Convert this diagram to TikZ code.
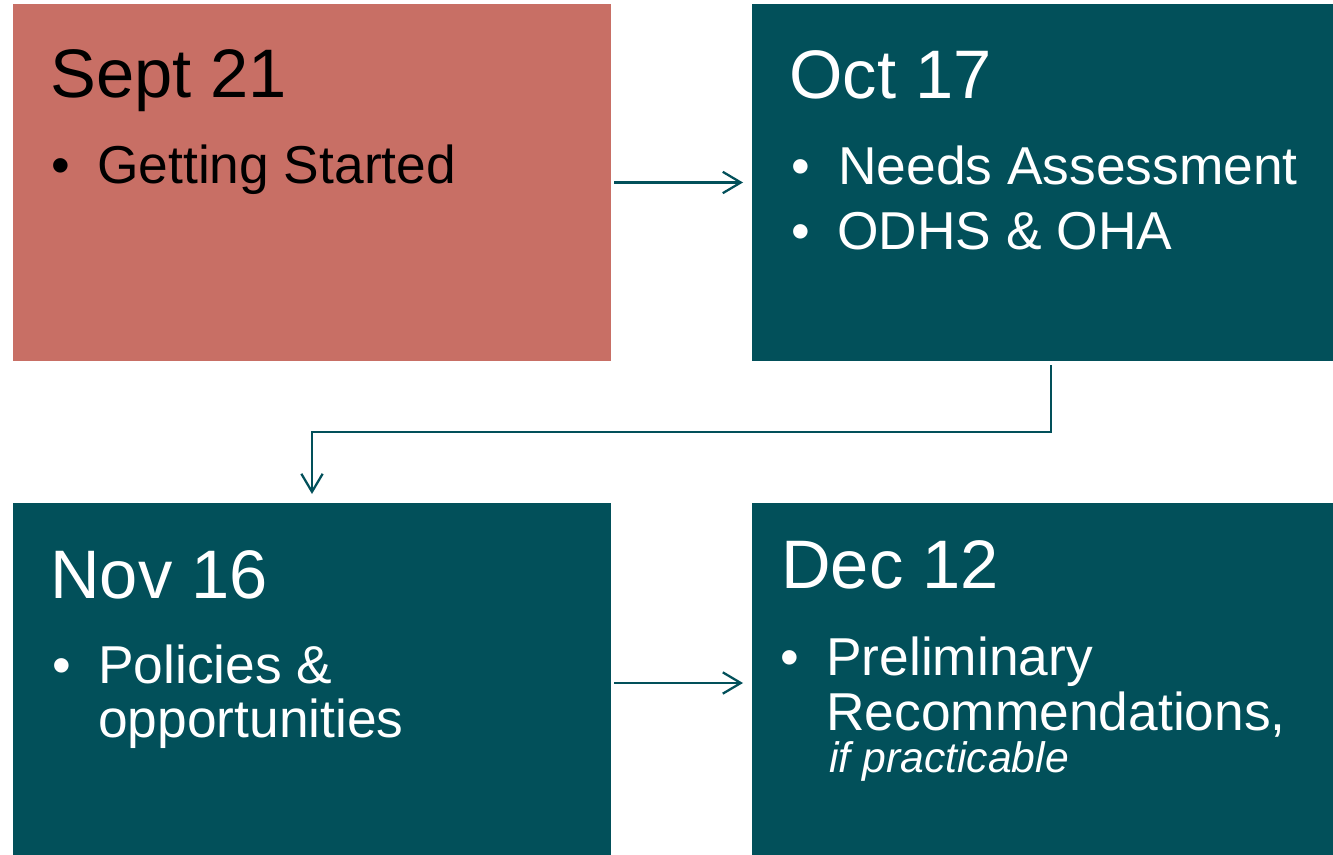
\documentclass[tikz,border=0pt]{standalone}
\usepackage{fontspec}
\setmainfont{Liberation Sans}
\usetikzlibrary{arrows.meta}
\definecolor{salmon}{HTML}{C86F65}
\definecolor{teal}{HTML}{02505A}
\tikzset{
  box/.style={draw=none, inner sep=0pt, outer sep=0pt},
  title/.style={anchor=base west, inner sep=0pt, font=\fontsize{51.5}{60}\selectfont},
  item/.style={anchor=base west, inner sep=0pt, font=\fontsize{40}{48}\selectfont},
  note/.style={anchor=base west, inner sep=0pt, font=\fontsize{32}{38}\selectfont\itshape},
  arr/.style={draw=teal, line width=1.7pt, -{Straight Barb[length=13.5pt,width=16pt,line width=1.7pt]}}
}
\begin{document}
\begin{tikzpicture}[x=0.75pt,y=-0.75pt]
\useasboundingbox (0,0) rectangle (1333,855);
% boxes
\node[box, fill=salmon, minimum width=598*0.75pt, minimum height=357*0.75pt] (b1) at (312,182.5) {};
\node[box, fill=teal, minimum width=581*0.75pt, minimum height=357*0.75pt] (b2) at (1042.5,182.5) {};
\node[box, fill=teal, minimum width=598*0.75pt, minimum height=352*0.75pt] (b3) at (312,679) {};
\node[box, fill=teal, minimum width=581*0.75pt, minimum height=352*0.75pt] (b4) at (1042.5,679) {};
% box 1 text
\node[title, text=black] (t1) at (50,98) {Sept 21};
\node[item, text=black] (t1b) at (51,184) {•};
\node[item, text=black] (t1i) at (97,184) {Getting Started};
% box 2 text
\node[title, text=white] (t2) at (789,99) {Oct 17};
\node[item, text=white] (t2b1) at (791,185) {•};
\node[item, text=white] (t2i1) at (838,185) {Needs Assessment};
\node[item, text=white] (t2b2) at (791,250) {•};
\node[item, text=white] (t2i2) at (837,250) {ODHS \& OHA};
% box 3 text
\node[title, text=white] (t3) at (50,598) {Nov 16};
\node[item, text=white] (t3b) at (52,683) {•};
\node[item, text=white] (t3i1) at (98,683) {Policies \&};
\node[item, text=white] (t3i2) at (98,737) {opportunities};
% box 4 text
\node[title, text=white] (t4) at (781,588) {Dec 12};
\node[item, text=white] (t4b) at (780,675) {•};
\node[item, text=white] (t4i1) at (826,675) {Preliminary};
\node[item, text=white] (t4i2) at (826,730) {Recommendations,};
\node[note, text=white] (t4i3) at (829,772) {if practicable};
% connectors
\draw[arr, shorten <=2.25pt, shorten >=6.75pt] (b1.east) -- (b2.west);
\draw[arr, shorten <=2.25pt, shorten >=6.75pt] ([yshift=-3pt]b3.east) -- ([yshift=-3pt]b4.west);
\draw[arr, shorten <=3pt, shorten >=6.75pt] ([xshift=6.4pt]b2.south) -- ++(0,71) -| (b3.north);
\end{tikzpicture}
\end{document}
